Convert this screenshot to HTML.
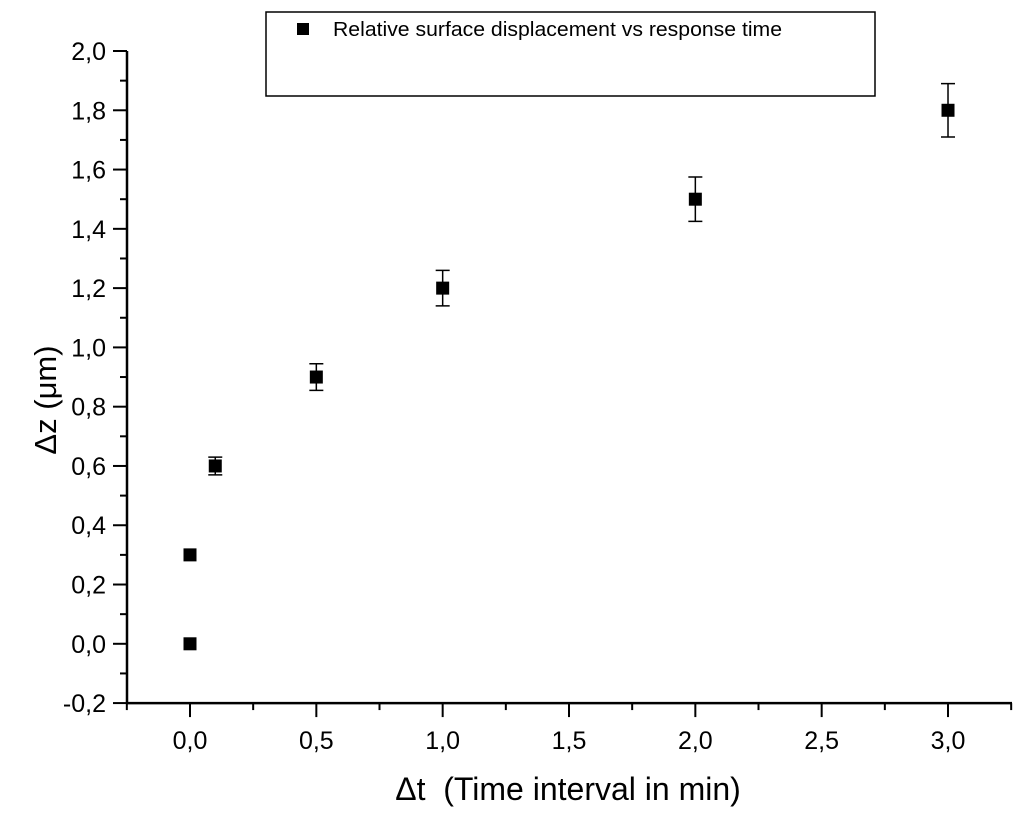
<!DOCTYPE html>
<html><head><meta charset="utf-8"><style>
body{margin:0;background:#fff}
svg text{font-family:"Liberation Sans",Arial,sans-serif;fill:#000}
</style></head><body>
<svg id="chart" width="1024" height="816" viewBox="0 0 1024 816" xmlns="http://www.w3.org/2000/svg">
<g id="axes"></g>
<g id="marks"></g>
<g>
<rect x="266" y="12" width="609" height="84" fill="#fff" stroke="#000" stroke-width="1.5"/>
<rect x="297" y="23" width="12" height="12" fill="#000"/>
<text x="333" y="36" font-size="20" textLength="449" lengthAdjust="spacingAndGlyphs">Relative surface displacement vs response time</text>
</g>
<text x="568" y="800" font-size="32" text-anchor="middle">Δt&#160; (Time interval in min)</text>
<text transform="translate(56,400) rotate(-90)" font-size="31" text-anchor="middle">Δz (μm)</text>
</svg>
<script>
const xValues=[0,0,0.1,0.5,1,2,3];
const yValues=[0,0.3,0.6,0.9,1.2,1.5,1.8];
const yErrors=[0,0.015,0.03,0.045,0.06,0.075,0.09];
const xTickLabels=["0,0","0,5","1,0","1,5","2,0","2,5","3,0"];
const yTickLabels=["-0,2","0,0","0,2","0,4","0,6","0,8","1,0","1,2","1,4","1,6","1,8","2,0"];
const NS="http://www.w3.org/2000/svg";
const X=v=>190+v*252.67, Y=v=>643.8-v*296.4;
function mk(t,a,p){const e=document.createElementNS(NS,t);for(const k in a)e.setAttribute(k,a[k]);p.appendChild(e);return e;}
const ax=document.getElementById('axes'), mg=document.getElementById('marks');
const yl=mk('line',{x1:127,y1:51,x2:127,y2:Y(-0.2)+1,stroke:'#000','stroke-width':2.5},ax);


const xl=mk('line',{x1:126,y1:Y(-0.2),x2:1012,y2:Y(-0.2),stroke:'#000','stroke-width':2.5},ax);


for(let i=0;i<=22;i++){const v=-0.2+i*0.1;const major=i%2===0;const y=Y(v);
 const t=mk('line',{x1:major?113:120,y1:y,x2:127,y2:y,stroke:'#000','stroke-width':2},ax);
 
 
 if(major){const tx=mk('text',{x:106,y:y+9,'font-size':25,'text-anchor':'end'},ax);tx.textContent=yTickLabels[i/2];
 
 }}
for(let i=0;i<=14;i++){const v=-0.25+i*0.25;const major=i%2===1;const x=X(v);
 const t=mk('line',{x1:x,y1:Y(-0.2),x2:x,y2:Y(-0.2)+(major?14:7),stroke:'#000','stroke-width':2},ax);
 
 
 if(major){const tx=mk('text',{x:x,y:749,'font-size':25,'text-anchor':'middle'},ax);tx.textContent=xTickLabels[(i-1)/2];
 
 }}
xValues.forEach((xv,i)=>{const cx=X(xv),cy=Y(yValues[i]),e=yErrors[i];
 if(e>0.02){const g=mk('path',{d:`M${cx},${Y(yValues[i]+e)}V${Y(yValues[i]-e)}M${cx-7},${Y(yValues[i]+e)}h14M${cx-7},${Y(yValues[i]-e)}h14`,stroke:'#000','stroke-width':1.5,fill:'none'},mg);
 
 }
 const r=mk('rect',{x:cx-6.5,y:cy-6.5,width:13,height:13,fill:'#000'},mg);
 
 });
</script>
</body></html>
